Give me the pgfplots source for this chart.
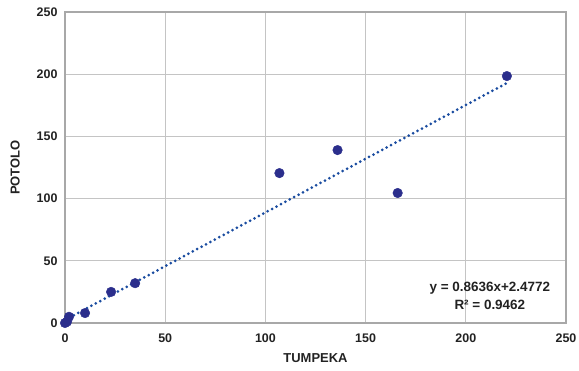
\documentclass[border=0pt]{standalone}
\usepackage{pgfplots}
\pgfplotsset{compat=1.18}
\usepackage{fontspec}
\setmainfont{Liberation Sans}
\definecolor{marker}{HTML}{2B2E8C}
\definecolor{trend}{HTML}{1A4CA0}
\definecolor{gridc}{HTML}{C4C4C4}
\definecolor{axc}{HTML}{A8A8A8}
\definecolor{txt}{HTML}{222222}
\begin{document}
\begin{tikzpicture}
\begin{axis}[
  scale only axis,
  width=501bp, height=311bp,
  xmin=0, xmax=250, ymin=0, ymax=250,
  xtick={0,50,...,250}, ytick={0,50,...,250},
  grid=major,
  major grid style={gridc, line width=1.1pt},
  axis line style={axc, line width=1.3pt},
  major tick length=0pt,
  tick label style={font=\fontsize{12.5}{15}\selectfont\bfseries, text=txt},
  xticklabel style={yshift=-7bp},
  yticklabel style={xshift=-4bp},
  label style={font=\fontsize{13}{15}\selectfont\bfseries, text=txt},
  xlabel={TUMPEKA},
  ylabel={POTOLO},
  xlabel style={yshift=-4bp},
  ylabel style={yshift=10bp},
  /pgf/number format/assume math mode=true,
  clip=false,
]
\addplot[only marks, mark=*, mark size=4.8bp, mark options={fill=marker, draw=marker}]
coordinates {(0,0) (1,1) (2,5) (10,8) (23,25) (35,32) (107,120.5) (136,139) (166,104.5) (220.5,198.5)};
\addplot[trend, line width=3bp, line cap=round, dash pattern=on 0pt off 5bp]
coordinates {(0,2.4772) (220.5,192.9)};
\node[align=center, font=\fontsize{13.5}{18}\selectfont\bfseries, text=txt] at (axis cs:212,21.5) {y = 0.8636x+2.4772\\R² = 0.9462};
\end{axis}
\pgfresetboundingbox
\path[use as bounding box] (-65bp,-48bp) rectangle (514bp,323bp);
\end{tikzpicture}
\end{document}
